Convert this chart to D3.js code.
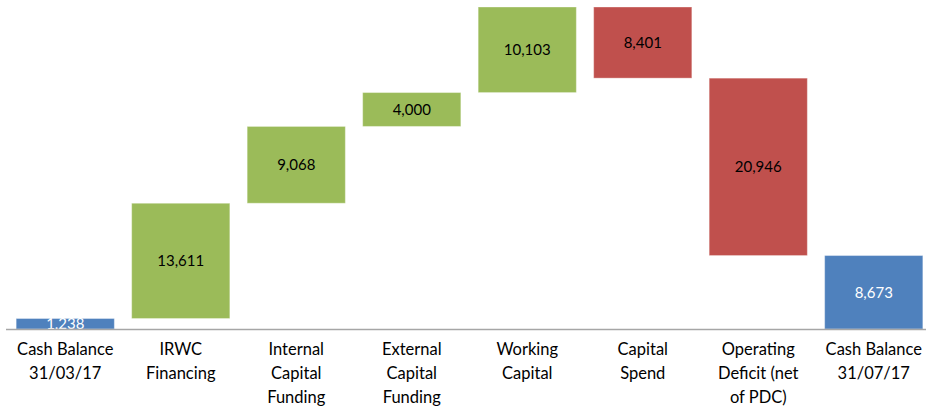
<!DOCTYPE html>
<html>
<head>
<meta charset="utf-8">
<script src="https://cdn.jsdelivr.net/npm/d3@7"></script>
<style>
  body { margin: 0; background: #fff; }
  text { font-family: Lato, "Open Sans", sans-serif; }
</style>
</head>
<body>
<div id="chart"></div>
<script>
const svgWidth = 926;
const svgHeight = 412;

// data
const categories = ['Cash Balance\n31/03/17', 'IRWC\nFinancing', 'Internal\nCapital\nFunding',
  'External\nCapital\nFunding', 'Working\nCapital', 'Capital\nSpend',
  'Operating\nDeficit (net\nof PDC)', 'Cash Balance\n31/07/17'];
const values = [1238, 13611, 9068, 4000, 10103, -8401, -20946, 8673];
const kinds = ['total', 'up', 'up', 'up', 'up', 'down', 'down', 'total'];

const colors = { total: '#4f81bd', up: '#9bbb59', down: '#c0504d' };

// build waterfall steps
let running = 0;
const steps = values.map((v, i) => {
  let lo, hi;
  if (kinds[i] === 'total') { lo = 0; hi = v; running = v; }
  else { const start = running; running += v; lo = Math.min(start, running); hi = Math.max(start, running); }
  return { cat: categories[i], value: v, kind: kinds[i], lo: lo, hi: hi };
});

let svg = d3.select('#chart')
  .append('svg')
  .attr('width', svgWidth)
  .attr('height', svgHeight);

let x = d3.scaleBand()
  .domain(categories)
  .range([7.5, 931.5])
  .paddingInner(0.15)
  .paddingOuter(0.075);

let y = d3.scaleLinear()
  .domain([0, d3.max(steps, d => d.hi)])
  .range([329, 7]);

svg.append('g').selectAll('rect')
  .data(steps)
  .enter()
  .append('rect')
  .attr('x', d => x(d.cat))
  .attr('width', x.bandwidth())
  .attr('y', d => y(d.hi))
  .attr('height', d => y(d.lo) - y(d.hi))
  .attr('fill', d => colors[d.kind])
  .attr('stroke', '#fff')
  .attr('stroke-opacity', 0.35)
  .attr('stroke-width', 1);

// value labels
svg.append('g').selectAll('text')
  .data(steps)
  .enter()
  .append('text')
  .attr('x', d => x(d.cat) + x.bandwidth() / 2)
  .attr('y', d => (y(d.lo) + y(d.hi)) / 2)
  .attr('dy', '0.36em')
  .attr('text-anchor', 'middle')
  .attr('font-size', 15)
  .attr('fill', d => d.kind === 'total' ? '#fff' : '#000')
  .text(d => d3.format(',')(Math.abs(d.value)));

// axis line
svg.append('line')
  .attr('x1', 6).attr('x2', 926)
  .attr('y1', 329.5).attr('y2', 329.5)
  .attr('stroke', '#a6a6a6')
  .attr('stroke-width', 1.5);

// category labels
let labels = svg.append('g').selectAll('text')
  .data(categories)
  .enter()
  .append('text')
  .attr('text-anchor', 'middle')
  .attr('font-size', 16.5)
  .attr('fill', '#000')
  .attr('transform', d => `translate(${x(d) + x.bandwidth() / 2}, 355)`);

labels.selectAll('tspan')
  .data(d => d.split('\n'))
  .enter()
  .append('tspan')
  .attr('x', 0)
  .attr('y', (d, i) => i * 24)
  .text(d => d);
</script>
</body>
</html>
